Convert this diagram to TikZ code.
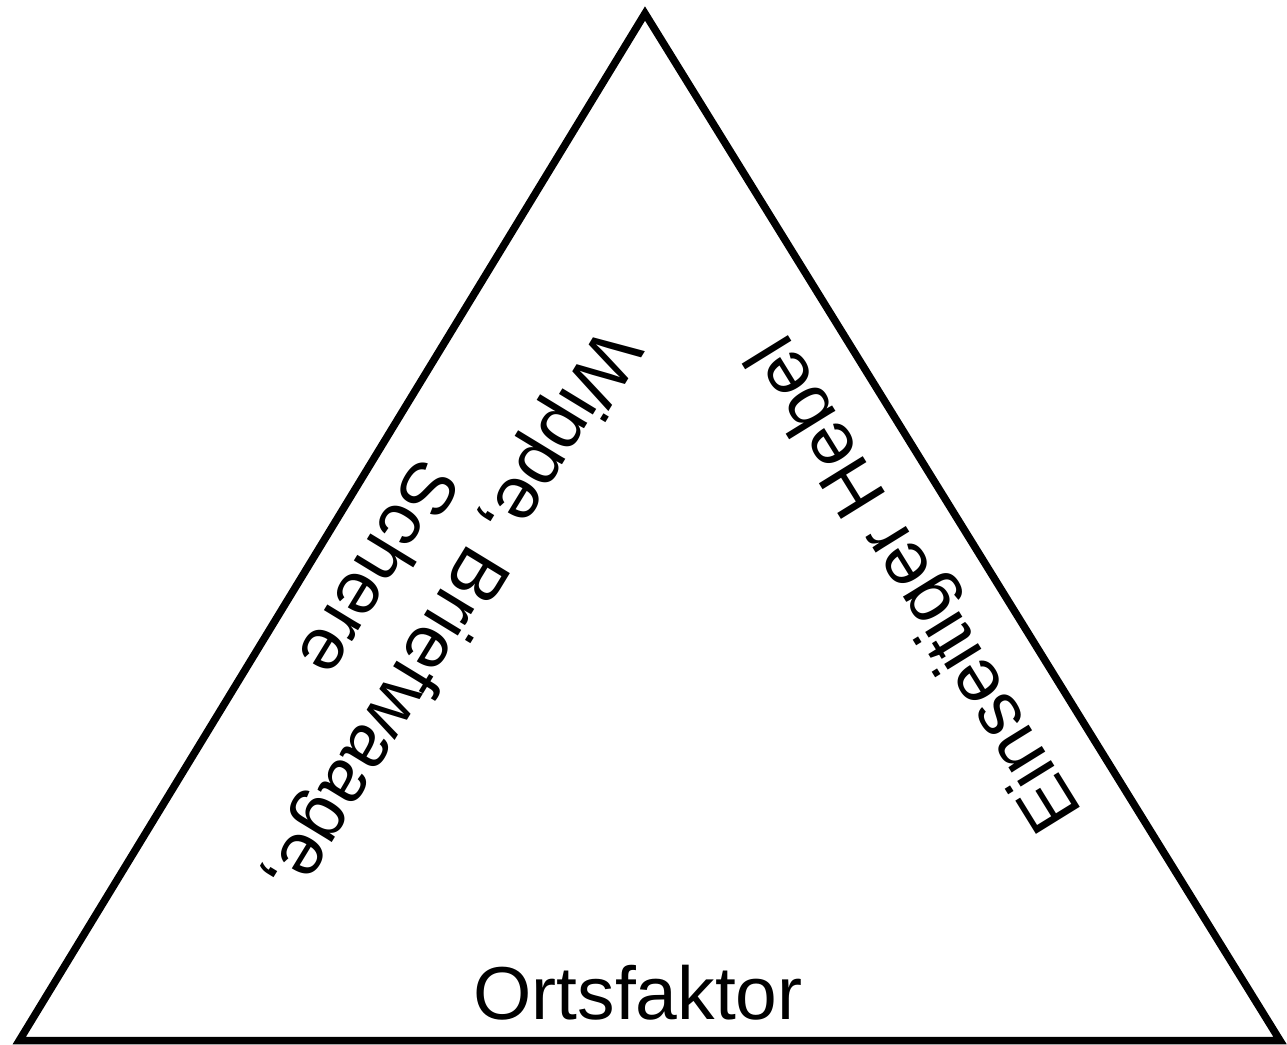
\documentclass[tikz,border=0pt]{standalone}
\usepackage{fontspec}
\setmainfont{Liberation Sans}
\begin{document}
\begin{tikzpicture}[x=1pt,y=-1pt,
  tri/.style={draw=black, line width=7.5pt, line join=miter},
  lbl/.style={font=\fontsize{75}{88}\selectfont, inner sep=0pt, align=center}]
\useasboundingbox (0,0) rectangle (1287,1044);
\coordinate (top) at (645,13.5);
\coordinate (bl) at (19.3,1040.5);
\coordinate (br) at (1280,1040.5);
\draw[tri] (top) -- (br) -- (bl) -- cycle;
\node[lbl, anchor=base] (orts) at (638,1019) {Ortsfaktor};
\node[lbl, rotate=121.73] (hebel) at (918,582) {Einseitiger Hebel};
\node[lbl, rotate=238.65] (wippe) at (418,593) {Wippe, Briefwaage,\\Schere};
\end{tikzpicture}
\end{document}
